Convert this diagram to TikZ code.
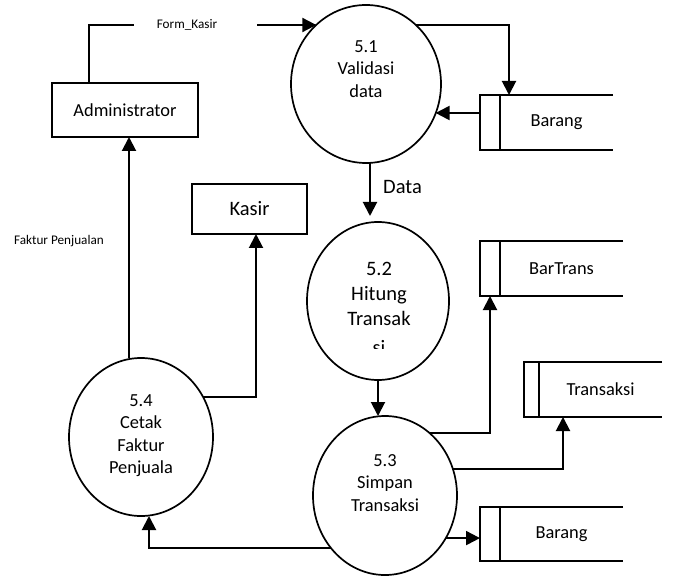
\documentclass[tikz,border=0pt]{standalone}
\usepackage{fontspec}
\setmainfont{Carlito}
\usetikzlibrary{shapes.geometric,arrows.meta}
\newcommand\myfA{\fontsize{18.4}{22.5}\selectfont}
\newcommand\myfB{\fontsize{20.5}{25}\selectfont}
\newcommand\myfC{\fontsize{13.2}{16}\selectfont}
\begin{document}
\begin{tikzpicture}[x=1pt,y=-1pt,
 conn/.style={line width=2pt},
 arr/.style={conn,-{Triangle[length=14pt,width=14pt]}},
 proc/.style={ellipse,draw,line width=1.7pt,inner sep=0,outer sep=0},
 ent/.style={rectangle,draw,line width=1.7pt,inner sep=0,outer sep=0,font=\myfA},
 store/.style={rectangle,inner sep=0,outer sep=0,minimum height=55pt,font=\myfA},
 sline/.style={line width=1.7pt},
 ptext/.style={align=center,font=\myfA,inner sep=0}]
\useasboundingbox (0,0) rectangle (674,577);

% processes
\node[proc,minimum width=150pt,minimum height=158pt] (p51) at (366,84) {};
\node[proc,minimum width=142pt,minimum height=158pt] (p52) at (378,301) {};
\node[proc,minimum width=144pt,minimum height=159pt] (p53) at (385,495.5) {};
\node[proc,minimum width=144pt,minimum height=158pt] (p54) at (141,437) {};

\node[ptext] (t51) at (366,69) {5.1\\Validasi\\data};
\begin{scope}
\clip (300,230) rectangle (460,348);
\node[ptext,font=\myfB] (t52) at (379,308) {5.2\\Hitung\\Transak\\[4pt]si};
\end{scope}
\node[ptext] (t53) at (385,483) {5.3\\Simpan\\Transaksi};
\node[ptext] (t54) at (141,435.5) {5.4\\Cetak\\Faktur\\Penjuala};

% entities
\node[ent,minimum width=146pt,minimum height=54pt] (admin) at (125,110) {Administrator};
\node[ent,font=\myfB,minimum width=115pt,minimum height=50pt] (kasir) at (249.5,209) {Kasir};

% stores
\node[store,minimum width=113pt] (b1) at (556.5,122.5) {Barang};
\node[store,minimum width=123pt] (bt) at (561.5,268.5) {BarTrans};
\node[store,minimum width=123pt] (tr) at (600.5,389.5) {Transaksi};
\node[store,minimum width=123pt,minimum height=54pt] (b2) at (561.5,534) {Barang};

\foreach \s/\w in {b1/20pt,bt/20pt,tr/15pt,b2/20pt}{
 \draw[sline] (\s.north east) -- (\s.north west) -- (\s.south west) -- (\s.south east);
 \draw[sline] (\s.north west) -- ([xshift=-\w]\s.north west) -- ([xshift=-\w]\s.south west) -- (\s.south west);
}

% labels
\node[font=\myfC,inner sep=0] (lfk) at (187,25) {Form\_Kasir};
\node[font=\myfC,inner sep=0] (lfp) at (59,241) {Faktur Penjualan};
\node[font=\myfB,inner sep=0,anchor=west] (ldata) at (383,187) {Data};

% helper coordinates
\coordinate (fkA) at (134,25);
\coordinate (fkB) at (257,25);
\coordinate (b1in) at ([shift={(-20pt,9.5pt)}]b1.west);
\coordinate (b1top) at ([xshift=9pt]b1.north west);
\coordinate (d1) at ([xshift=4pt]p51.south);
\coordinate (btin) at ([xshift=-10pt]bt.south west);
\coordinate (trin) at ([xshift=24pt]tr.south west);
\coordinate (b2in) at ([xshift=-20pt]b2.west);
\coordinate (p54in) at ([xshift=8pt]p54.south);
\coordinate (adin) at ([xshift=4pt]admin.south);
\coordinate (ksin) at ([xshift=6.5pt]kasir.south);
\coordinate (adtop) at ([xshift=-36pt]admin.north);

% connectors
\draw[conn] (adtop) |- (fkA);
\draw[arr] (fkB) -- (fkB -| p51.130);
\draw[arr] (p51.50) -| (b1top);
\draw[arr] (b1in) -- (b1in -| p51.337.4);
\draw[arr,shorten >=6pt] (d1) -- (d1 |- p52.north);
\draw[arr] (p52.south) -- (p52.south |- p53.north);
\draw[arr] (p53.54.5) -| (btin);
\draw[arr] (p53.21.3) -| (trin);
\draw[arr] (p53.325) -- (p53.325 -| b2in);
\draw[arr] (p53.224.2) -| (p54in);
\draw[arr] (adin |- p54.north) -- (adin);
\draw[arr] (p54.33.6) -| (ksin);
\end{tikzpicture}
\end{document}
